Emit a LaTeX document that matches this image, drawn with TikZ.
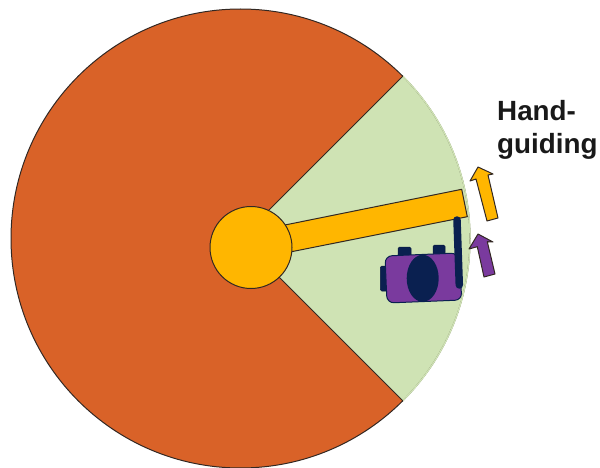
\documentclass[tikz,border=0pt]{standalone}
\usepackage{fontspec}
\setmainfont{Liberation Sans}
\usetikzlibrary{shapes.geometric}
\definecolor{wheelorange}{RGB}{217,98,40}
\definecolor{zonegreen}{RGB}{207,227,180}
\definecolor{armgold}{RGB}{255,182,0}
\definecolor{robotpurple}{RGB}{122,58,158}
\definecolor{robotnavy}{RGB}{10,32,80}
\definecolor{edgedark}{RGB}{50,40,35}
\tikzset{
outline/.style={draw=edgedark, line width=1pt, line join=round},
navypart/.style={fill=robotnavy, draw=robotnavy!80!black, line width=0.5pt, rounded corners=1.5pt},
caption/.style={align=left, anchor=north west, font=\fontsize{27.8}{33}\selectfont\bfseries, text=black!90, inner sep=0pt}
}
\begin{document}
\begin{tikzpicture}[x=1pt,y=-1pt]
\useasboundingbox (0,0) rectangle (600,468);
% wheel and safe zone
\fill[wheelorange] (240.5,238.5) circle (229.5);
\fill[zonegreen] (240.5,238.5) -- (402.8,76.2) arc[start angle=-45,end angle=45,radius=229.5] -- cycle;
\draw[outline] (240.5,238.5) circle (229.5);
\draw[zonegreen, line width=1.4pt] (402.8,76.2) arc[start angle=-45,end angle=45,radius=229.5];
\draw[outline] (402.8,76.2) -- (240.5,238.5) -- (402.8,400.8);
% arm and hub
\draw[outline, fill=armgold] (280,226) -- (461.7,189.3) -- (467.3,216.7) -- (285,253) -- cycle;
\node[circle, outline, fill=armgold, minimum size=82pt, inner sep=0pt] (hub) at (251,247.5) {};
% robot
\node[navypart, minimum width=13pt, minimum height=10pt, inner sep=0pt] (knobleft) at (404.5,252) {};
\node[navypart, minimum width=12pt, minimum height=10pt, inner sep=0pt] (knobright) at (439,250) {};
\node[navypart, minimum width=8pt, minimum height=25pt, inner sep=0pt] (knobside) at (384.3,278.5) {};
\draw[outline, draw=robotnavy, fill=robotpurple, rounded corners=7pt] (385,256) -- (458,253) -- (462,300) -- (387,303) -- cycle;
\node[ellipse, fill=robotnavy, minimum width=32pt, minimum height=47pt, inner sep=0pt] (lens) at (422.7,278.3) {};
\draw[robotnavy, line width=7.5pt, line cap=round] (457,220) -- (459.3,285);
% motion arrows
\draw[outline, fill=armgold] (478,167) -- (493,174) -- (488,175) -- (498,218) -- (487,221) -- (476,179) -- (470,181) -- cycle;
\draw[outline, fill=robotpurple] (478,234) -- (493,242) -- (487.3,241.7) -- (495,274) -- (484,277) -- (477.3,246.7) -- (469,249) -- cycle;
% text
\node[caption] (handguiding) at (497,100) {Hand-\\guiding};
\end{tikzpicture}
\end{document}
